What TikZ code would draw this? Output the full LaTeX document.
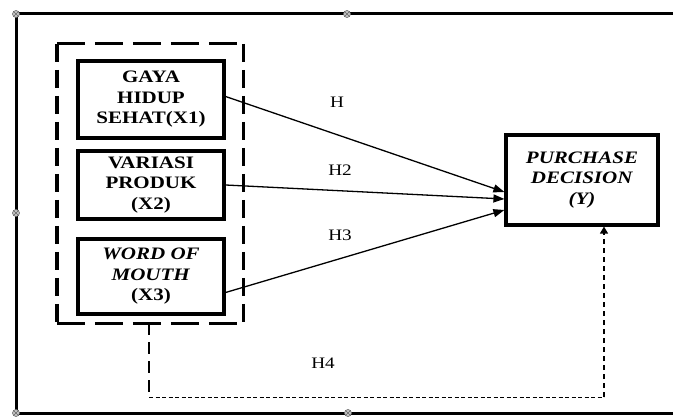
\documentclass[tikz,border=0pt]{standalone}
\usepackage{fontspec}
\setmainfont{Liberation Serif}[FakeStretch=1.2]
\usetikzlibrary{arrows.meta,calc}
\tikzset{
  varbox/.style={draw, line width=3.2pt, rectangle, inner sep=0pt, align=center,
    font=\fontsize{17.5}{20.5}\selectfont\bfseries, minimum width=146pt},
  arr/.style={line width=1.3pt, -{Triangle[length=11pt,width=8pt]}},
  hlabel/.style={font=\fontsize{16}{19}\selectfont, inner sep=0pt},
  frameline/.style={line width=3pt},
  handle/.style={circle, draw=gray!80!black, fill=gray!45, line width=0.6pt, minimum size=7pt, inner sep=0pt,
    path picture={\draw[line width=0.6pt] (path picture bounding box.south west) -- (path picture bounding box.north east)
      (path picture bounding box.north west) -- (path picture bounding box.south east);}},
  grpH/.style={line width=3.4pt, dash pattern=on 28pt off 10pt},
  grpV/.style={line width=3.4pt, dash pattern=on 18pt off 8pt},
}
\begin{document}
\begin{tikzpicture}[x=1pt,y=-1pt]
\useasboundingbox (0,0) rectangle (673,417);
% outer frame
\draw[frameline] (673,14) -- (16,14) -- (16,413) -- (673,413);
\node[handle] (h1) at (16,14) {};
\node[handle] (h2) at (347,14) {};
\node[handle] (h3) at (16,213) {};
\node[handle] (h4) at (16,413) {};
\node[handle] (h5) at (348,413) {};
% group box
\node[rectangle, minimum width=186pt, minimum height=279pt, inner sep=0pt] (g) at (150,183.5) {};
\draw[grpH] (g.north west) -- (g.north east);
\draw[grpH] (g.south west) -- (g.south east);
\draw[grpV] (g.north west) -- (g.south west);
\draw[grpV] (g.north east) -- (g.south east);
% variable boxes
\node[varbox, minimum height=77pt] (x1) at (151,99.5) {GAYA\\HIDUP\\SEHAT(X1)};
\node[varbox, minimum height=68pt] (x2) at (151,185) {VARIASI\\PRODUK\\(X2)};
\node[varbox, minimum height=75pt] (x3) at (151,276.5) {\textit{WORD OF}\\\textit{MOUTH}\\(X3)};
\node[varbox, minimum width=152pt, minimum height=90pt] (y) at (582,180) {\textit{PURCHASE}\\\textit{DECISION}\\\textit{(Y)}};
% arrows
\draw[arr] ([yshift=3pt]x1.east) -- ([yshift=-12pt]y.west);
\draw[arr] (x2.east) -- ([yshift=-19pt]y.west);
\draw[arr] ([yshift=-16pt]x3.east) -- ([yshift=-30pt]y.west);
% labels
\node[hlabel] (lh1) at (337,102) {H};
\node[hlabel] (lh2) at (340,170) {H2};
\node[hlabel] (lh3) at (340,235) {H3};
\node[hlabel] (lh4) at (323,363) {H4};
% H4 connector
\coordinate (c1) at (149,397);
\coordinate (c2) at (604,397);
\draw[line width=2.6pt, dash pattern=on 12pt off 7pt] (g.south -| c1) -- (c1);
\draw[line width=1pt, dash pattern=on 4pt off 2.5pt] (c1) -- (c2);
\draw[line width=1.4pt, dash pattern=on 5pt off 4pt, -{Triangle[length=7pt,width=8pt]}] (c2) -- (y.south -| c2);
\end{tikzpicture}
\end{document}
